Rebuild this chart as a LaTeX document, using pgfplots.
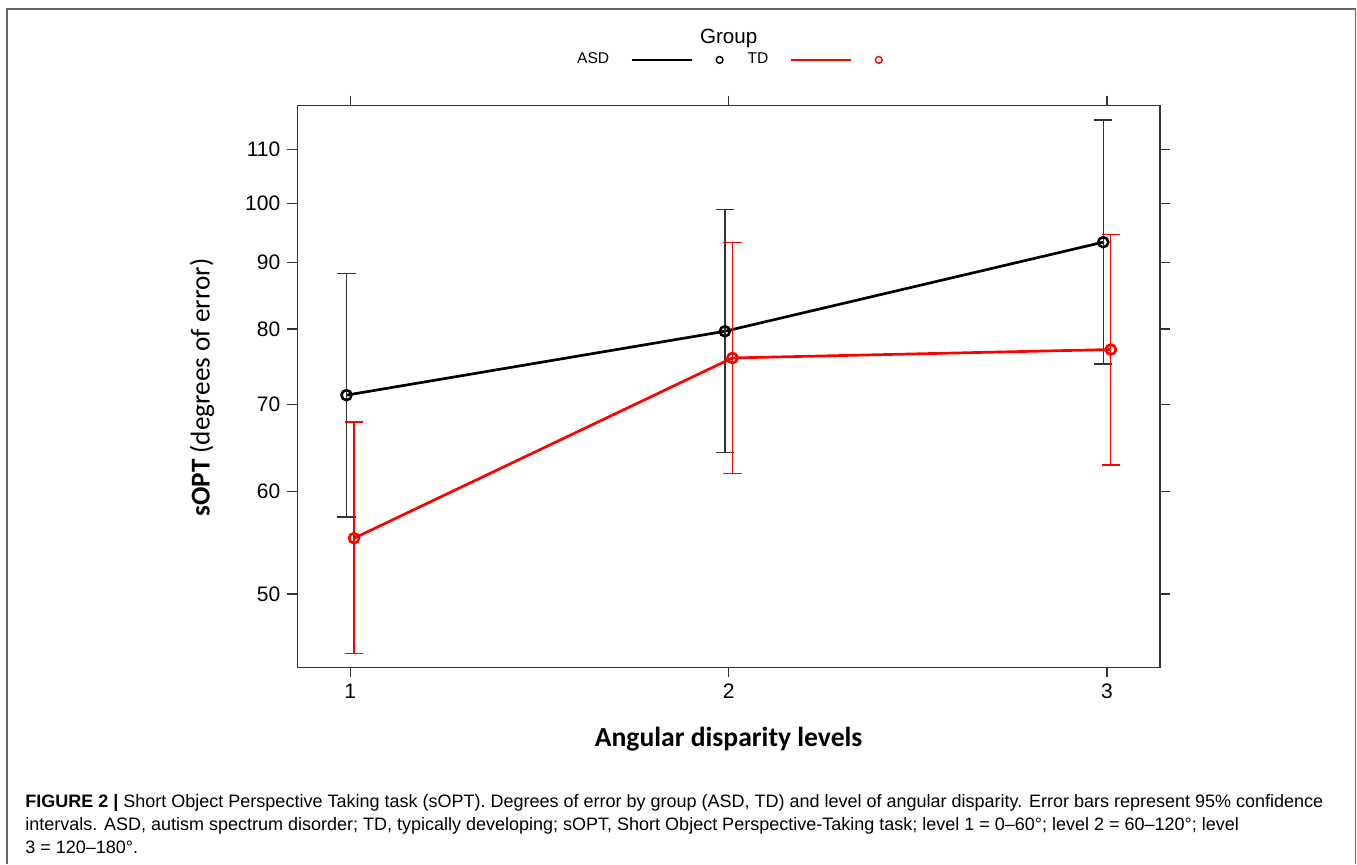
\documentclass[border=0pt]{standalone}
\usepackage{fontspec}
\setmainfont{Liberation Sans}
\newfontfamily\calibri{Carlito}
\newfontfamily\capfont{Liberation Sans}
\usepackage{pgfplots}
\usepackage{pgfplotstable}
\pgfplotsset{compat=1.18}

\pgfplotstableread{
x y lo hi
0.99 71.15 57.32 88.33
1.99 79.70 64.25 98.95
2.99 93.33 75.20 115.93
}\asd
\pgfplotstableread{
x y lo hi
1.01 55.20 44.96 67.83
2.01 76.01 61.94 93.33
3.01 77.15 62.86 94.66
}\td

\begin{document}
\begin{tikzpicture}
\begin{scope}[x=0.5pt,y=-0.5pt]
\path[use as bounding box] (0,0) rectangle (1357,864);
\draw[black!60, line width=0.75pt] (7,864) -- (7,9) -- (1355.5,9) -- (1355.5,864);
\node[anchor=base west, inner sep=0pt, font=\capfont\fontsize{9}{11}\selectfont] at (25,807) {\textbf{FIGURE 2 |} Short Object Perspective Taking task (sOPT). Degrees of error by group (ASD, TD) and level of angular disparity. Error bars represent 95\% confidence};
\node[anchor=base west, inner sep=0pt, font=\capfont\fontsize{9}{11}\selectfont] at (25,830) {intervals. ASD, autism spectrum disorder; TD, typically developing; sOPT, Short Object Perspective-Taking task; level 1 = 0–60°; level 2 = 60–120°; level};
\node[anchor=base west, inner sep=0pt, font=\capfont\fontsize{9}{11}\selectfont] at (25,853) {3 = 120–180°.};
\end{scope}
\begin{axis}[
  at={(148.65pt,-333.65pt)}, anchor=south west,
  scale only axis, width=431.35pt, height=280.8pt,
  xmin=0.86, xmax=3.14,
  ymode=log, ymin=43.9, ymax=118.9,
  xtick={1,2,3}, xticklabels={1,2,3},
  ytick={50,60,70,80,90,100,110}, yticklabels={50,60,70,80,90,100,110},
  yminorticks=false, xminorticks=false,
  tick align=outside,
  xtick pos=both, ytick pos=both,
  xticklabel pos=lower, yticklabel pos=left,
  major tick length=5pt,
  axis line style={black!80, line width=0.6pt},
  every tick/.style={black!80, line width=0.6pt},
  tick label style={font=\fontsize{10.5}{12}\selectfont},
  /pgf/number format/assume math mode=true,
  xlabel={Angular disparity levels},
  ylabel={\textbf{sOPT} (degrees of error)},
  every axis x label/.style={at={(axis description cs:0.5,-0.1414)}, anchor=base, font=\calibri\bfseries\fontsize{13.8}{16}\selectfont},
  every axis y label/.style={at={(axis description cs:-0.1017,0.498)}, anchor=base, rotate=90, font=\calibri\fontsize{13.6}{16}\selectfont},
  title={Group},
  every axis title/.style={at={(axis description cs:0.5,1.1099)}, anchor=base, inner sep=0pt, font=\fontsize{10.3}{12}\selectfont},
  legend columns=2,
  legend plot pos=right,
  legend style={at={(axis description cs:0.3239,1.0815)}, anchor=west, draw=none, fill=none, inner sep=0pt, column sep=0pt, font=\fontsize{7.8}{9}\selectfont, nodes={inner sep=0pt}},
]
\addplot[black, line width=1.35pt, mark=o, mark size=2.5pt, mark options={line width=1.3pt},
  error bars/.cd, y dir=both, y explicit,
  error bar style={black!80, line width=0.7pt},
  error mark options={black!80, line width=0.7pt, mark size=4.6pt, rotate=90},
  /pgfplots/legend image code/.code={
    \path[draw=none, fill=none] (0pt,-3pt) rectangle (69.2pt,3pt);
    \draw[black, line width=1.35pt] (11.2pt,0pt) -- (41.2pt,0pt);
    \draw[black, line width=0.7pt] (55.2pt,0pt) circle (1.7pt);
  }]
  table[x=x, y=y, y error plus expr=\thisrow{hi}-\thisrow{y}, y error minus expr=\thisrow{y}-\thisrow{lo}] {\asd};
\addlegendentry{ASD}
\addplot[red, line width=1.35pt, mark=o, mark size=2.5pt, mark options={line width=1.3pt},
  error bars/.cd, y dir=both, y explicit,
  error bar style={red, line width=0.6pt},
  error mark options={red, line width=0.6pt, mark size=4.6pt, rotate=90},
  /pgfplots/legend image code/.code={
    \path[draw=none, fill=none] (0pt,-3pt) rectangle (57pt,3pt);
    \draw[red, line width=1.35pt] (11.2pt,0pt) -- (41.2pt,0pt);
    \draw[red, line width=0.7pt] (55.2pt,0pt) circle (1.7pt);
  }]
  table[x=x, y=y, y error plus expr=\thisrow{hi}-\thisrow{y}, y error minus expr=\thisrow{y}-\thisrow{lo}] {\td};
\addlegendentry{TD}
\end{axis}
\end{tikzpicture}
\end{document}
